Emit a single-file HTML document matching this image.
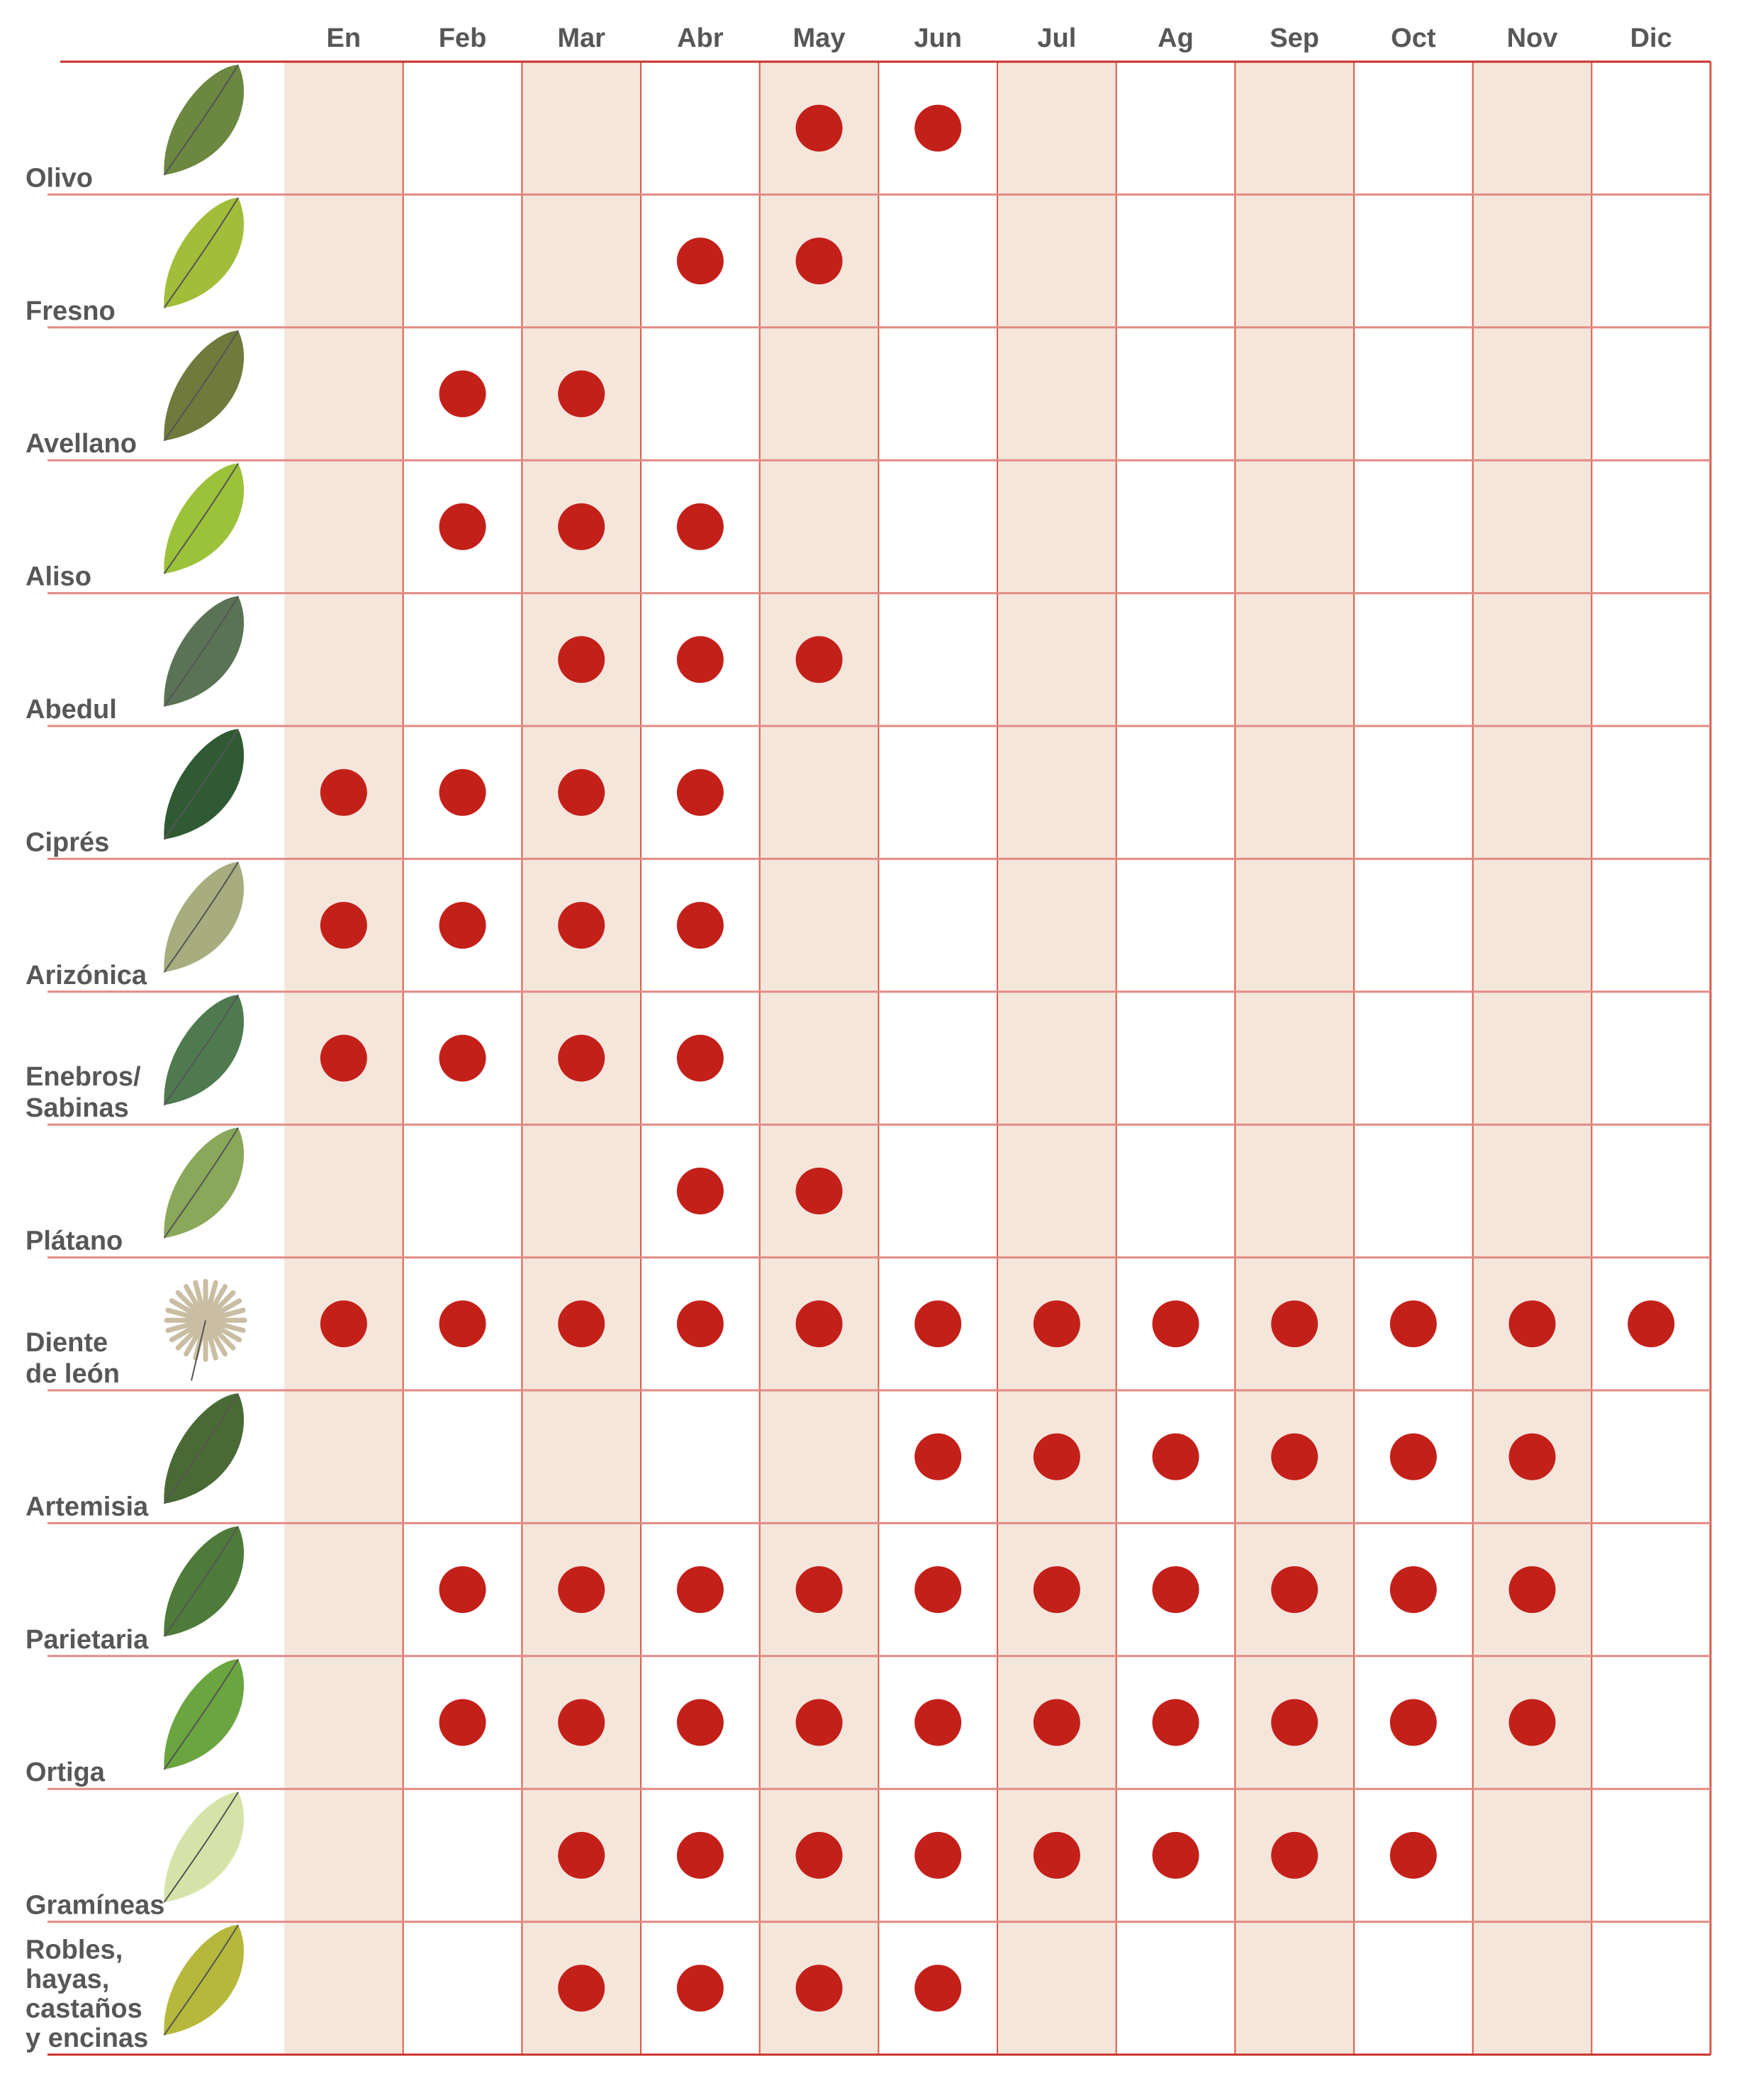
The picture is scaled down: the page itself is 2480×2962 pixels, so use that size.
<!DOCTYPE html>
<html><head><meta charset="utf-8">
<style>
html,body{margin:0;padding:0;background:#fff;}
svg{display:block;}
text{font-family:"Liberation Sans",sans-serif;font-weight:bold;fill:#575756;}
</style></head>
<body>
<svg id="chart" xmlns="http://www.w3.org/2000/svg" width="2480" height="2962" viewBox="0 0 2480 2962">
<g id="bg"></g><g id="grid"></g><g id="plants"></g><g id="labels"></g><g id="dots"></g><g id="header"></g>
</svg>
<script>
const months = ["En","Feb","Mar","Abr","May","Jun","Jul","Ag","Sep","Oct","Nov","Dic"];
const categories = ["Olivo","Fresno","Avellano","Aliso","Abedul","Ciprés","Arizónica","Enebros/|Sabinas","Plátano","Diente|de león","Artemisia","Parietaria","Ortiga","Gramíneas","Robles,|hayas,|castaños|y encinas"];
const pollenMonths = [
 [4,5],[3,4],[1,2],[1,2,3],[2,3,4],[0,1,2,3],[0,1,2,3],[0,1,2,3],[3,4],
 [0,1,2,3,4,5,6,7,8,9,10,11],[5,6,7,8,9,10],[1,2,3,4,5,6,7,8,9,10],
 [1,2,3,4,5,6,7,8,9,10],[2,3,4,5,6,7,8,9],[2,3,4,5]
];
const plantColors = ["#6b8740","#a2bd3a","#6f7a3c","#9cc23a","#5a7355","#2f5a33","#a8ad80","#4f7a50","#8aa85a","#c9bda3","#4a6a35","#4e7a3a","#6aa53f","#d6e3a8","#b5b83a"];

const NS="http://www.w3.org/2000/svg";
const X0=401,X1=2413,Y0=87,Y1=2898;
const CW=(X1-X0)/months.length, RH=(Y1-Y0)/categories.length;
function colX(i){return X0+CW*i;}
function rowY(j){return Y0+RH*j;}
function mk(tag,attrs,parent){const e=document.createElementNS(NS,tag);for(const k in attrs)e.setAttribute(k,attrs[k]);parent.appendChild(e);return e;}
const bg=document.getElementById('bg'),grid=document.getElementById('grid'),dots=document.getElementById('dots'),hdr=document.getElementById('header'),lab=document.getElementById('labels'),pl=document.getElementById('plants');

months.forEach((m,i)=>{
  if(i%2===0){const r=mk('rect',{x:colX(i),y:Y0,width:CW,height:Y1-Y0,fill:'#f5e6dc'},bg);
    
    }
  const t=mk('text',{x:colX(i)+CW/2,y:66,'font-size':38,'text-anchor':'middle'},hdr);
  t.textContent=m;
  
  
});
for(let i=0;i<=months.length;i++){
  const l=mk('line',{x1:colX(i),x2:colX(i),y1:Y0,y2:Y1,stroke:i===0?'none':'#dd5a48','stroke-width':i===months.length?3:2},grid);
  
  
}
for(let j=0;j<=categories.length;j++){
  const isTop=j===0;
  const l=mk('line',{x1:isTop?85:67,x2:X1,y1:rowY(j),y2:rowY(j),stroke:(isTop||j===categories.length)?'#c8302a':'#e28b84','stroke-width':3},grid);
  
  
}
categories.forEach((c,j)=>{
  const lines=c.split('|');
  const base=rowY(j+1)-11;
  const lh=lines.length>2?41.5:44;
  lines.forEach((ln,k)=>{
    const t=mk('text',{x:36,y:base-(lines.length-1-k)*lh,'font-size':38},lab);
    t.textContent=ln;
    
    
  });
  // plant illustration
  const cx=290, cy=rowY(j)+RH/2-5;
  const g=mk('g',{transform:`translate(${cx},${cy})`},pl);
  
  
  if(j===9){
    for(let a=0;a<360;a+=15){mk('line',{x1:0,y1:0,x2:Math.cos(a*Math.PI/180)*55,y2:Math.sin(a*Math.PI/180)*55,stroke:plantColors[j],'stroke-width':7,'stroke-linecap':'round'},g);}
    mk('path',{d:'M0 0 L-20 85',stroke:'#555','stroke-width':2,fill:'none'},g);
  } else {
    mk('path',{d:'M-70 60 C-60 -20 20 -80 60 -75 C75 -20 30 60 -70 60 Z',fill:plantColors[j],transform:'rotate(-10)'},g);
    mk('path',{d:'M-70 60 C-20 10 20 -30 60 -75',stroke:'#555','stroke-width':2,fill:'none',transform:'rotate(-10)'},g);
  }
});
pollenMonths.forEach((arr,j)=>{
  arr.forEach(i=>{
    const c=mk('circle',{cx:colX(i)+CW/2,cy:rowY(j)+RH/2,r:33,fill:'#c4201a'},dots);
    
    
  });
});
</script>
</body></html>
